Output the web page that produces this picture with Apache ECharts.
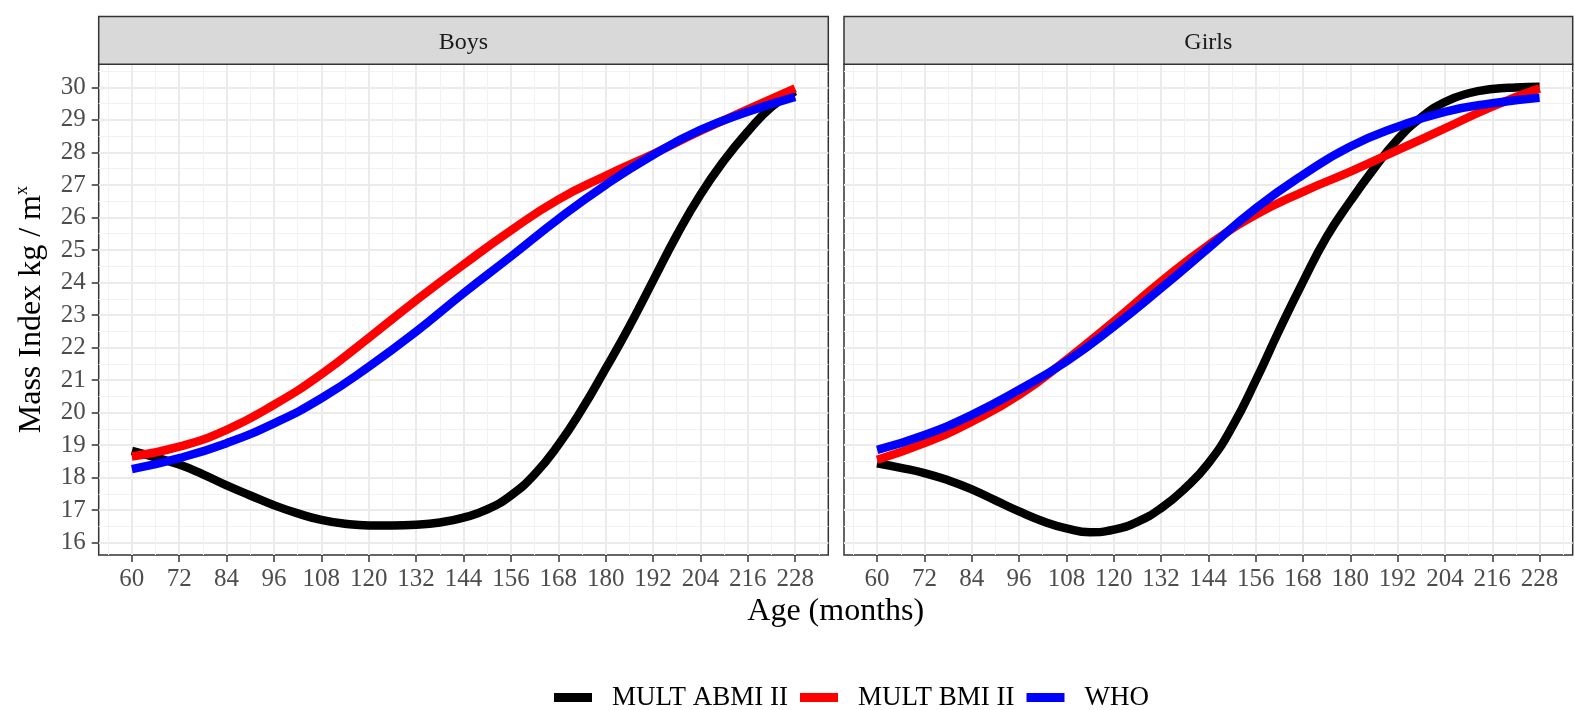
<!DOCTYPE html>
<html>
<head>
<meta charset="utf-8">
<script src="https://cdn.jsdelivr.net/npm/echarts@6/dist/echarts.min.js"></script>
<style>
html,body{margin:0;padding:0;background:#fff;}
#chart{width:1575px;height:710px;}
</style>
</head>
<body>
<div id="chart"></div>
<script>
// ---- data ----
const panels = ['Boys', 'Girls'];
const seriesNames = ['MULT ABMI II', 'MULT BMI II', 'WHO'];
const seriesColors = ['#000000', '#FF0000', '#0000FF'];
const ages6 = [60,66,72,78,84,90,96,102,108,114,120,126,132,138,144,150,156,162,168,174,180,186,192,198,204,210,216,222,228];
const ages12 = [60,72,84,96,108,120,132,144,156,168,180,192,204,216,228];
const boysABMI = [18.82,18.62,18.40,18.10,17.76,17.45,17.15,16.90,16.70,16.58,16.53,16.53,16.55,16.62,16.77,17.02,17.45,18.10,19.00,20.10,21.35,22.65,24.05,25.45,26.70,27.75,28.64,29.40,29.88];
const boysBMI = [18.65,18.95,19.47,20.24,21.18,22.30,23.45,24.55,25.60,26.55,27.28,27.95,28.66,29.32,29.97];
const boysWHO = [18.26,18.60,19.06,19.67,20.44,21.41,22.49,23.67,24.80,25.95,27.00,27.92,28.69,29.25,29.71];
const girlsABMI = [18.44,18.30,18.14,17.92,17.64,17.30,16.96,16.66,16.44,16.32,16.40,16.64,17.06,17.66,18.44,19.55,20.98,22.54,24.02,25.40,26.50,27.50,28.40,29.08,29.55,29.82,29.95,30.00,30.02];
const girlsBMI = [18.55,19.06,19.72,20.54,21.62,22.80,24.03,25.15,26.08,26.79,27.41,28.07,28.74,29.41,29.97];
const girlsWHO = [18.85,19.31,19.93,20.70,21.57,22.64,23.82,25.05,26.28,27.31,28.18,28.79,29.25,29.51,29.68];
const xTicks = [60,72,84,96,108,120,132,144,156,168,180,192,204,216,228];
const xMinor = [54,66,78,90,102,114,126,138,150,162,174,186,198,210,222,234];
const yTicks = [16,17,18,19,20,21,22,23,24,25,26,27,28,29,30];
const yMinor = [16.5,17.5,18.5,19.5,20.5,21.5,22.5,23.5,24.5,25.5,26.5,27.5,28.5,29.5,30.5];

// ---- layout ----
const FONT = "'Liberation Serif','Times New Roman',serif";
const X_MIN = 51.6, X_MAX = 236.4, Y_MIN = 15.62, Y_MAX = 30.71;
const gridsPos = [
  {left: 98.7, top: 64.3, width: 729.6, height: 490.7},
  {left: 844, top: 64.3, width: 728.7, height: 490.7}
];
const stripTop = 16.5;

const chart = echarts.init(document.getElementById('chart'), null, {renderer: 'canvas'});

const grids = gridsPos.map(g => ({
  left: g.left, top: g.top, width: g.width, height: g.height,
  show: true, borderColor: '#333333', borderWidth: 1.5, backgroundColor: 'transparent',
  containLabel: false
}));

const xAxes = [], yAxes = [];
gridsPos.forEach((g, i) => {
  xAxes.push({
    type: 'value', gridIndex: i, min: X_MIN, max: X_MAX, position: 'bottom',
    axisLine: {show: false}, axisLabel: {show: false},
    axisTick: {show: false, customValues: xMinor},
    splitLine: {show: true, lineStyle: {color: '#F2F2F2', width: 1}}
  });
  xAxes.push({
    type: 'value', gridIndex: i, min: X_MIN, max: X_MAX, position: 'bottom',
    axisLine: {show: false},
    axisTick: {show: true, length: 7, inside: false, customValues: xTicks, lineStyle: {color: '#333333', width: 1.5}},
    axisLabel: {show: true, customValues: xTicks, margin: 12, fontFamily: FONT, fontSize: 25, color: '#4D4D4D', lineHeight: 25},
    splitLine: {show: true, lineStyle: {color: '#EBEBEB', width: 2}}
  });
  yAxes.push({
    type: 'value', gridIndex: i, min: Y_MIN, max: Y_MAX, position: 'left',
    axisLine: {show: false}, axisLabel: {show: false},
    axisTick: {show: false, customValues: yMinor},
    splitLine: {show: true, lineStyle: {color: '#F2F2F2', width: 1}}
  });
  const ax = {
    type: 'value', gridIndex: i, min: Y_MIN, max: Y_MAX, position: 'left',
    axisLine: {show: false},
    axisTick: {show: i === 0, length: 7, inside: false, customValues: yTicks, lineStyle: {color: '#333333', width: 1.5}},
    axisLabel: {show: i === 0, customValues: yTicks, margin: 13, fontFamily: FONT, fontSize: 25, color: '#4D4D4D'},
    splitLine: {show: true, lineStyle: {color: '#EBEBEB', width: 2}}
  };
  if (i === 0) {
    ax.name = 'Mass Index kg / m{sup|x}';
    ax.nameLocation = 'middle';
    ax.nameRotate = 90;
    ax.nameGap = 49;
    ax.nameTextStyle = {
      fontFamily: FONT, fontSize: 32, color: '#000000', lineHeight: 36,
      rich: {sup: {fontFamily: FONT, fontSize: 18, lineHeight: 18, verticalAlign: 'top', color: '#000000'}}
    };
  }
  yAxes.push(ax);
});

function pairs(xs, ys) { return xs.map((x, k) => [x, ys[k]]); }
const panelData = [
  [pairs(ages6, boysABMI), pairs(ages12, boysBMI), pairs(ages12, boysWHO)],
  [pairs(ages6, girlsABMI), pairs(ages12, girlsBMI), pairs(ages12, girlsWHO)]
];

const series = [];
panelData.forEach((sets, i) => {
  sets.forEach((d, s) => {
    series.push({
      type: 'line', name: seriesNames[s], data: d,
      xAxisIndex: i * 2 + 1, yAxisIndex: i * 2 + 1,
      smooth: 0.5, showSymbol: false, symbol: 'none',
      color: seriesColors[s],
      lineStyle: {color: seriesColors[s], width: 8.5, cap: 'butt'},
      emphasis: {disabled: true}, z: 3 + s
    });
  });
});

const graphics = [];
gridsPos.forEach((g, i) => {
  graphics.push({
    type: 'rect', silent: true,
    shape: {x: g.left, y: stripTop, width: g.width, height: g.top - stripTop},
    style: {fill: '#D9D9D9', stroke: '#333333', lineWidth: 1.5}, z: 10
  });
  graphics.push({
    type: 'text', silent: true,
    x: g.left + g.width / 2, y: (stripTop + g.top) / 2 + 2,
    style: {text: panels[i], fontFamily: FONT, fontSize: 24, fill: '#1A1A1A', align: 'center', verticalAlign: 'middle'},
    z: 11
  });
});
graphics.push({
  type: 'text', silent: true,
  x: (gridsPos[0].left + gridsPos[1].left + gridsPos[1].width) / 2, y: 611.7,
  style: {text: 'Age (months)', fontFamily: FONT, fontSize: 32, fill: '#000000', align: 'center', verticalAlign: 'middle'},
  z: 11
});

chart.setOption({
  animation: false,
  backgroundColor: '#FFFFFF',
  grid: grids,
  xAxis: xAxes,
  yAxis: yAxes,
  legend: {
    data: seriesNames, left: 554, top: 684, orient: 'horizontal', padding: 0,
    icon: 'rect', itemWidth: 38, itemHeight: 9, itemGap: 12,
    textStyle: {fontFamily: FONT, fontSize: 27, color: '#000000', lineHeight: 27, padding: [0, 0, 0, 15]},
    selectedMode: false
  },
  series: series,
  graphic: graphics
});
</script>
</body>
</html>
